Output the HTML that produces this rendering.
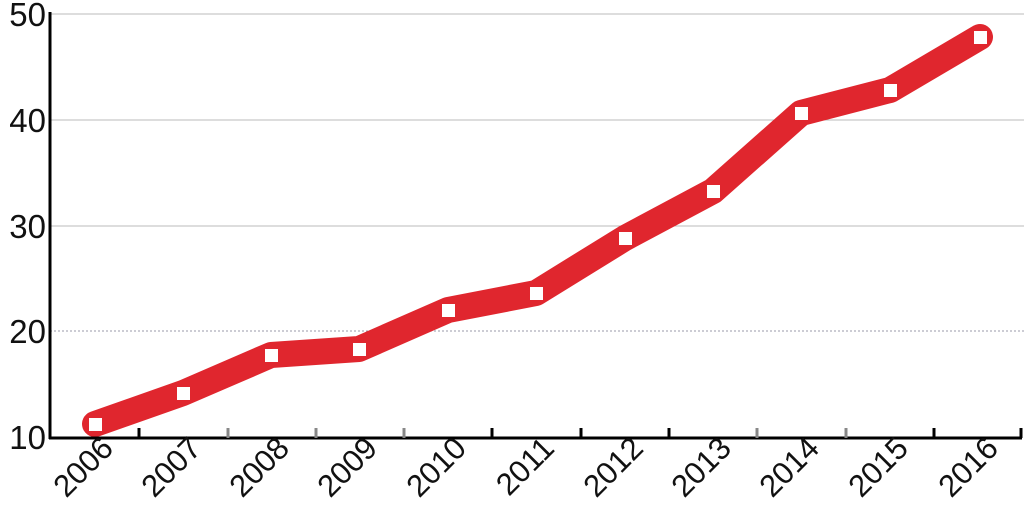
<!DOCTYPE html>
<html><head><style>body{margin:0;background:#fff}svg{display:block}</style></head><body>
<svg width="1024" height="508" xmlns="http://www.w3.org/2000/svg" font-family="'Liberation Sans',sans-serif">
<g stroke="#bbb" stroke-width="1">
<line x1="50" y1="14" x2="1024" y2="14"/>
<line x1="50" y1="120" x2="1024" y2="120"/>
<line x1="50" y1="226" x2="1024" y2="226"/>
</g>
<line x1="50" y1="331" x2="1024" y2="331" stroke="#99a" stroke-width="1" stroke-dasharray="2,2"/>
<polyline fill="none" stroke="#e0262e" stroke-width="26" stroke-linejoin="round" stroke-linecap="round"
points="95,424 183,393 271,355 359,349 448,310 536,293 625,238 713,191 801,113 890,90 980,37"/>
<g fill="#fff">
<rect x="89" y="418" width="13" height="13"/><rect x="177" y="387" width="13" height="13"/>
<rect x="265" y="349" width="13" height="13"/><rect x="353" y="343" width="13" height="13"/>
<rect x="442" y="304" width="13" height="13"/><rect x="530" y="287" width="13" height="13"/>
<rect x="619" y="232" width="13" height="13"/><rect x="707" y="185" width="13" height="13"/>
<rect x="795" y="107" width="13" height="13"/><rect x="884" y="84" width="13" height="13"/>
<rect x="974" y="31" width="13" height="13"/>
</g>
<g stroke="#000" stroke-width="3">
<line x1="50" y1="12" x2="50" y2="439"/>
<line x1="49" y1="438" x2="1022" y2="438"/>
<line x1="139" y1="428" x2="139" y2="438"/><line x1="492" y1="428" x2="492" y2="438"/>
<line x1="581" y1="428" x2="581" y2="438"/><line x1="669" y1="428" x2="669" y2="438"/>
<line x1="934" y1="428" x2="934" y2="438"/><line x1="1021" y1="428" x2="1021" y2="438"/>
</g>
<g stroke="#888" stroke-width="3">
<line x1="228" y1="428" x2="228" y2="438"/><line x1="316" y1="428" x2="316" y2="438"/>
<line x1="404" y1="428" x2="404" y2="438"/><line x1="757" y1="428" x2="757" y2="438"/>
<line x1="846" y1="428" x2="846" y2="438"/>
</g>
<g font-size="33" text-anchor="end" fill="#111">
<text x="46" y="26">50</text><text x="46" y="132">40</text><text x="46" y="238">30</text>
<text x="46" y="343">20</text><text x="46" y="449">10</text>
</g>
<g font-size="31" text-anchor="end" fill="#111">
<text transform="translate(115,450) rotate(-45)">2006</text>
<text transform="translate(203,450) rotate(-45)">2007</text>
<text transform="translate(291,450) rotate(-45)">2008</text>
<text transform="translate(379,450) rotate(-45)">2009</text>
<text transform="translate(468,450) rotate(-45)">2010</text>
<text transform="translate(556,450) rotate(-45)">2011</text>
<text transform="translate(645,450) rotate(-45)">2012</text>
<text transform="translate(733,450) rotate(-45)">2013</text>
<text transform="translate(821,450) rotate(-45)">2014</text>
<text transform="translate(910,450) rotate(-45)">2015</text>
<text transform="translate(1000,450) rotate(-45)">2016</text>
</g>
</svg>
</body></html>
